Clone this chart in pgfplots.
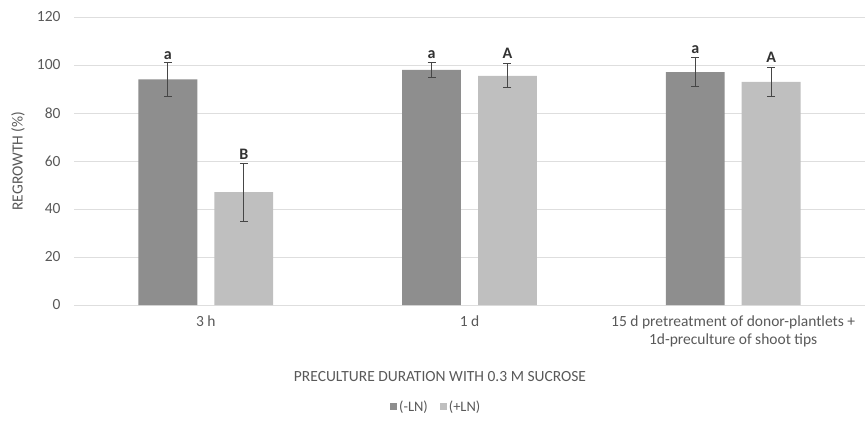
\documentclass[border=0pt]{standalone}
\usepackage{pgfplots}
\pgfplotsset{compat=1.18}
\usepackage{fontspec}
\setmainfont{Carlito}
\definecolor{txt}{RGB}{89,89,89}
\definecolor{darkbar}{RGB}{142,142,142}
\definecolor{lightbar}{RGB}{191,191,191}
\definecolor{gridc}{RGB}{222,222,222}
\definecolor{errc}{RGB}{70,70,70}
\definecolor{lett}{RGB}{50,50,50}
\begin{document}
\begin{tikzpicture}[x=1pt,y=1pt]
\useasboundingbox (0,0) rectangle (865,432);
\begin{axis}[
  at={(74pt,127pt)}, anchor=south west,
  width=791pt, height=288pt, scale only axis,
  xmin=-0.5, xmax=2.5, ymin=0, ymax=120,
  ytick={0,20,40,60,80,100,120},
  xtick={0,1,2},
  xticklabels={3 h, 1 d, {15 d pretreatment of donor-plantlets +\\1d-preculture of shoot tips}},
  xticklabel style={align=center, font=\fontsize{15.5}{18}\selectfont, text=txt, yshift=-7pt},
  yticklabel style={font=\fontsize{15.5}{16}\selectfont, text=txt, xshift=-10pt},
  /pgf/number format/assume math mode=true,
  ymajorgrids, grid style={gridc, line width=1pt},
  axis line style={draw=none},
  major tick length=0pt,
  legend style={at={(0.458,-0.354)}, anchor=center, draw=none, fill=none,
    font=\fontsize{14.5}{16}\selectfont, text=txt, legend columns=2,
    /tikz/every even column/.append style={column sep=10pt}},
  legend cell align=left,
]
\addplot[ybar, bar width=0.223, bar shift=0pt, fill=darkbar, draw=none,
  legend image code/.code={\fill[darkbar] (0pt,-3.5pt) rectangle (7pt,3.5pt);},
  error bars/.cd, y dir=both, y explicit,
  error bar style={errc, line width=0.9pt},
  error mark options={rotate=90, errc, mark size=4pt, line width=0.9pt}]
  coordinates {(-0.144,94) +- (0,7) (0.856,98) +- (0,3) (1.856,97) +- (0,6)};
\addlegendentry{(-LN)}
\addplot[ybar, bar width=0.223, bar shift=0pt, fill=lightbar, draw=none,
  legend image code/.code={\fill[lightbar] (0pt,-3.5pt) rectangle (7pt,3.5pt);},
  error bars/.cd, y dir=both, y explicit,
  error bar style={errc, line width=0.9pt},
  error mark options={rotate=90, errc, mark size=4pt, line width=0.9pt}]
  coordinates {(0.144,47) +- (0,12) (1.144,95.5) +- (0,5) (2.144,93) +- (0,6)};
\addlegendentry{(+LN)}
\tikzset{lettstyle/.style={anchor=base, font=\fontsize{16}{16}\selectfont\bfseries, text=lett}}
\node[lettstyle] at (axis cs:-0.144,102.5) {a};
\node[lettstyle] at (axis cs:0.144,60.7) {B};
\node[lettstyle] at (axis cs:0.856,102.8) {a};
\node[lettstyle] at (axis cs:1.144,102.8) {A};
\node[lettstyle] at (axis cs:1.856,105) {a};
\node[lettstyle] at (axis cs:2.144,101.1) {A};
\end{axis}
\node[font=\fontsize{15.5}{16}\selectfont, text=txt] at (440,55) {PRECULTURE DURATION WITH 0.3 M SUCROSE};
\node[font=\fontsize{15.5}{16}\selectfont, text=txt, rotate=90] at (18,271) {REGROWTH (\%)};
\end{tikzpicture}
\end{document}
